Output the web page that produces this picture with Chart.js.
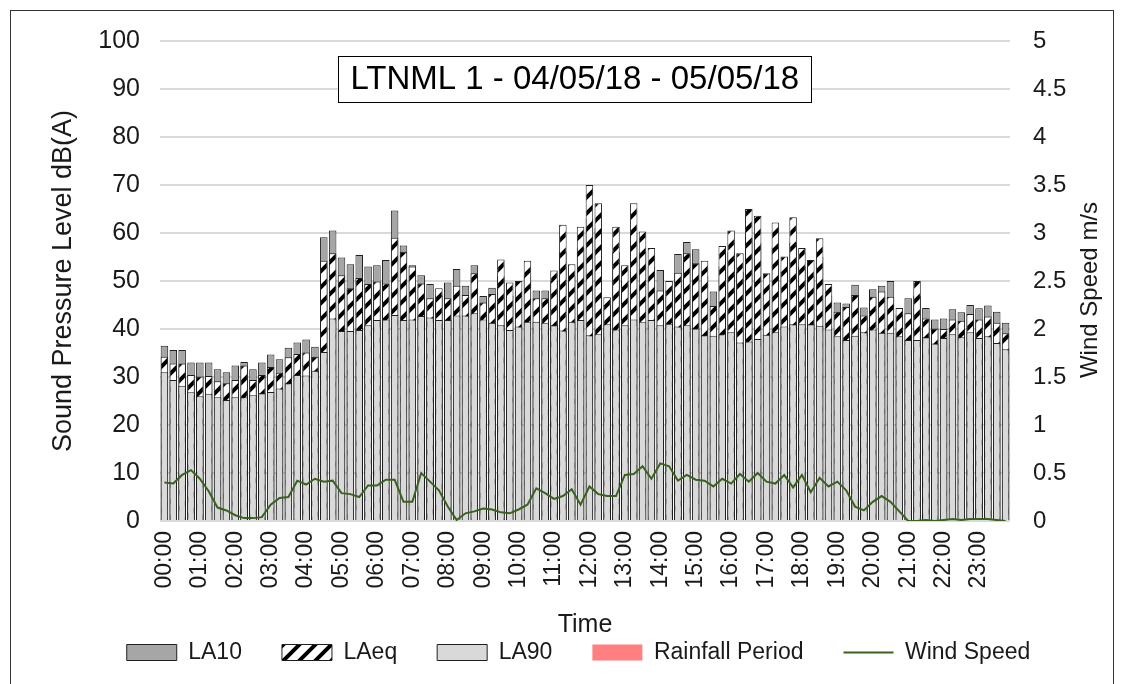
<!DOCTYPE html>
<html>
<head>
<meta charset="utf-8">
<script src="https://cdn.jsdelivr.net/npm/chart.js@4.4.1/dist/chart.umd.min.js"></script>
<style>
html, body { margin: 0; padding: 0; background: #fff; }
#wrap { width: 1124px; height: 684px; position: relative; }
</style>
</head>
<body>
<div id="wrap"><canvas id="noiseChart"></canvas></div>
<script>
const chartTitle = 'LTNML 1 - 04/05/18 - 05/05/18';

// 15 minute intervals, 00:00 to 23:45
const timeLabels = [];
for (let h = 0; h < 24; h++) {
    for (const m of ['00', '15', '30', '45']) {
        timeLabels.push(String(h).padStart(2, '0') + ':' + m);
    }
}

const la10 = [
    36.5, 35.6, 35.6, 33.0, 33.0, 33.0, 31.6, 31.0, 32.4, 33.1, 31.6, 33.0, 34.7, 33.7, 36.1, 37.2,
    37.8, 36.3, 59.1, 60.5, 54.9, 53.5, 55.4, 53.0, 53.3, 54.4, 64.7, 57.4, 53.3, 51.2, 49.4, 47.0,
    49.7, 52.5, 49.0, 53.3, 46.9, 48.6, 51.0, 47.0, 48.0, 51.0, 48.0, 48.0, 50.0, 56.0, 51.0, 57.0,
    63.0, 61.0, 45.0, 56.0, 50.0, 60.0, 56.0, 53.0, 52.3, 48.0, 55.6, 58.1, 56.6, 51.0, 47.8, 53.0,
    56.0, 52.0, 59.0, 58.0, 48.0, 57.0, 52.0, 58.0, 53.0, 51.0, 55.0, 47.0, 45.5, 45.3, 49.2, 44.5,
    48.3, 49.0, 50.0, 43.0, 46.4, 47.0, 44.4, 42.0, 42.2, 44.1, 43.5, 45.0, 44.3, 44.9, 43.6, 41.3
];
const laeq = [
    34.2, 32.8, 32.8, 30.4, 30.1, 30.2, 29.1, 28.7, 29.4, 32.4, 29.4, 30.4, 32.1, 30.9, 34.1, 34.8,
    35.1, 34.2, 54.2, 55.8, 51.2, 48.5, 50.6, 49.4, 49.9, 49.5, 59.0, 56.1, 53.0, 49.5, 46.4, 48.5,
    46.4, 49.0, 47.1, 51.6, 45.5, 47.3, 54.5, 49.7, 50.0, 54.2, 46.4, 46.4, 52.2, 61.7, 53.5, 61.3,
    70.0, 66.2, 46.6, 61.3, 53.3, 66.2, 60.3, 56.9, 48.0, 50.0, 51.7, 55.8, 53.7, 54.2, 44.8, 57.3,
    60.5, 55.8, 65.0, 63.6, 51.6, 62.2, 55.1, 63.3, 56.9, 54.4, 58.9, 49.4, 43.6, 44.6, 47.1, 42.8,
    46.7, 47.8, 46.7, 44.4, 43.3, 50.0, 42.2, 40.1, 40.0, 42.0, 41.7, 43.1, 42.0, 42.6, 41.3, 39.1
];
const la90 = [
    31.0, 29.4, 28.2, 26.8, 26.0, 26.5, 25.8, 25.2, 25.8, 25.8, 26.2, 26.6, 26.9, 27.6, 28.7, 30.4,
    30.3, 31.3, 35.2, 42.2, 39.6, 39.6, 39.8, 40.8, 41.9, 42.0, 42.9, 41.9, 42.0, 42.7, 42.4, 41.9,
    41.9, 42.8, 42.8, 43.3, 42.0, 41.3, 40.8, 39.8, 40.5, 41.5, 41.5, 41.3, 40.8, 39.7, 41.5, 41.9,
    38.7, 38.9, 41.0, 39.9, 40.8, 42.0, 41.4, 41.9, 40.8, 41.1, 40.5, 40.8, 40.1, 38.7, 38.6, 38.9,
    39.3, 37.2, 37.4, 37.9, 38.8, 39.3, 40.5, 41.0, 41.0, 41.0, 40.7, 39.9, 38.5, 37.7, 38.6, 39.3,
    39.9, 39.2, 39.2, 38.5, 37.7, 37.7, 38.3, 37.0, 38.1, 38.9, 38.3, 39.3, 38.1, 38.5, 37.1, 35.8
];
const windSpeed = [
    0.40, 0.39, 0.48, 0.53, 0.44, 0.31, 0.14, 0.11, 0.06, 0.03, 0.03, 0.04, 0.17, 0.24, 0.25, 0.42,
    0.38, 0.44, 0.41, 0.42, 0.29, 0.28, 0.25, 0.37, 0.37, 0.43, 0.43, 0.20, 0.20, 0.50, 0.41, 0.32,
    0.15, 0.01, 0.08, 0.10, 0.13, 0.12, 0.09, 0.08, 0.12, 0.17, 0.34, 0.29, 0.23, 0.26, 0.33, 0.17,
    0.36, 0.28, 0.26, 0.26, 0.48, 0.49, 0.57, 0.44, 0.60, 0.57, 0.42, 0.48, 0.43, 0.42, 0.36, 0.44,
    0.39, 0.49, 0.41, 0.50, 0.41, 0.39, 0.48, 0.35, 0.48, 0.30, 0.45, 0.36, 0.41, 0.32, 0.15, 0.11,
    0.20, 0.26, 0.20, 0.10, 0.00, 0.00, 0.01, 0.00, 0.01, 0.02, 0.01, 0.02, 0.02, 0.02, 0.01, 0.00
];
const rainfall = []; // no rainfall recorded in this period

const FONT = "'Liberation Sans', Arial, sans-serif";
Chart.defaults.font.family = FONT;
Chart.defaults.color = '#1a1a1a';

// white with thick black upward diagonals, like Excel's wide upward diagonal fill
function makeHatch() {
    const c = document.createElement('canvas');
    c.width = 16; c.height = 16;
    const g = c.getContext('2d');
    g.fillStyle = '#fff';
    g.fillRect(0, 0, 16, 16);
    g.strokeStyle = '#000';
    g.lineWidth = 4;
    g.beginPath();
    g.moveTo(-4, 4); g.lineTo(4, -4);
    g.moveTo(-2, 18); g.lineTo(18, -2);
    g.moveTo(12, 20); g.lineTo(20, 12);
    g.stroke();
    return g.createPattern(c, 'repeat');
}

const extras = {
    id: 'extras',
    afterDraw(chart) {
        const ctx = chart.ctx;
        const a = chart.chartArea;
        ctx.save();
        // outer frame
        ctx.strokeStyle = '#333';
        ctx.lineWidth = 1;
        ctx.strokeRect(10.5, 10.5, 1103, 700);

        // boxed title inside the plot
        ctx.font = '33px ' + FONT;
        const w = ctx.measureText(chartTitle).width;
        const cx = a.left + (a.right - a.left) * 0.488;
        const cy = a.top + 38;
        const bw = w + 24, bh = 46;
        ctx.fillStyle = '#fff';
        ctx.fillRect(cx - bw / 2, cy - bh / 2, bw, bh);
        ctx.strokeStyle = '#000';
        ctx.strokeRect(Math.round(cx - bw / 2) + 0.5, Math.round(cy - bh / 2) + 0.5, Math.round(bw), bh);
        ctx.fillStyle = '#000';
        ctx.textAlign = 'center';
        ctx.textBaseline = 'middle';
        ctx.fillText(chartTitle, cx, cy + 1);

        // secondary axis title, reading bottom to top
        ctx.translate(1090, 290);
        ctx.rotate(-Math.PI / 2);
        ctx.font = '24px ' + FONT;
        ctx.fillStyle = '#1a1a1a';
        ctx.fillText('Wind Speed m/s', 0, 0);
        ctx.restore();
    }
};

const hatch = makeHatch();
const barBorder = '#1f1f1f';

const ctx = document.getElementById('noiseChart').getContext('2d');
const chart = new Chart(ctx, {
    type: 'bar',
    data: {
        labels: timeLabels,
        datasets: [{
            label: 'LA10',
            data: la10,
            backgroundColor: '#a6a6a6',
            borderColor: barBorder,
            borderWidth: 1,
            pointStyle: 'rect',
            order: 3
        }, {
            label: 'LAeq',
            data: laeq,
            backgroundColor: hatch,
            borderColor: barBorder,
            borderWidth: 1,
            pointStyle: 'rect',
            order: 2
        }, {
            label: 'LA90',
            data: la90,
            backgroundColor: '#d9d9d9',
            borderColor: barBorder,
            borderWidth: 1,
            pointStyle: 'rect',
            order: 1
        }, {
            label: 'Rainfall Period',
            data: rainfall,
            backgroundColor: '#ff8080',
            borderWidth: 0,
            pointStyle: 'rect',
            order: 4
        }, {
            type: 'line',
            label: 'Wind Speed',
            data: windSpeed,
            yAxisID: 'y1',
            borderColor: '#3b6121',
            backgroundColor: '#3b6121',
            borderWidth: 2,
            pointRadius: 0,
            pointStyle: 'line',
            tension: 0,
            order: 0
        }]
    },
    options: {
        responsive: true,
        maintainAspectRatio: false,
        animation: false,
        layout: {
            padding: { left: 37, right: 4, top: 41, bottom: 10 }
        },
        datasets: {
            bar: {
                barPercentage: 0.85,
                categoryPercentage: 1
            }
        },
        plugins: {
            legend: {
                position: 'bottom',
                labels: {
                    usePointStyle: true,
                    pointStyleWidth: 50,
                    boxHeight: 16,
                    padding: 40,
                    color: '#1a1a1a',
                    font: { size: 23 },
                    sort: (a, b) => a.datasetIndex - b.datasetIndex
                }
            },
            tooltip: { enabled: false }
        },
        scales: {
            x: {
                stacked: true,
                grid: { display: false, drawTicks: false },
                border: { display: false },
                ticks: {
                    autoSkip: false,
                    minRotation: 90,
                    maxRotation: 90,
                    padding: 10,
                    font: { size: 23 },
                    callback: function (v, i) {
                        return i % 4 === 0 ? this.getLabelForValue(v) : '';
                    }
                },
                title: {
                    display: true,
                    text: 'Time',
                    font: { size: 25 },
                    padding: { top: 0, bottom: -39 }
                },
                afterFit: s => { s.height = 80; }
            },
            y: {
                position: 'left',
                stacked: false,
                min: 0,
                max: 100,
                ticks: {
                    stepSize: 10,
                    padding: 20,
                    font: { size: 25 },
                    callback: v => String(v)
                },
                grid: { color: '#d9d9d9', lineWidth: 2, drawTicks: false },
                border: { display: false },
                title: {
                    display: true,
                    text: 'Sound Pressure Level dB(A)',
                    font: { size: 27 },
                    padding: { top: 10, bottom: 0 }
                },
                afterFit: s => { s.width = 123; }
            },
            y1: {
                position: 'right',
                min: 0,
                max: 5,
                ticks: {
                    stepSize: 0.5,
                    padding: 23,
                    font: { size: 24 },
                    callback: v => String(v)
                },
                grid: { drawOnChartArea: false, drawTicks: false },
                border: { display: false },
                afterFit: s => { s.width = 110; }
            }
        }
    },
    plugins: [extras]
});
</script>
</body>
</html>
